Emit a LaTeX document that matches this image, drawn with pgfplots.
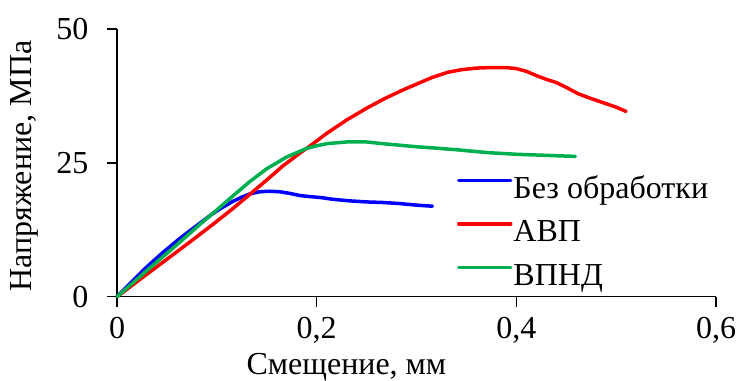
\documentclass[border=0pt]{standalone}
\usepackage{fontspec}
\setmainfont{LiberationSerif}[Extension=.ttf, UprightFont=*-Regular, BoldFont=*-Bold, ItalicFont=*-Italic, BoldItalicFont=*-BoldItalic]
\usepackage{pgfplots}
\pgfplotsset{compat=1.18}
\newcommand\fs{\rmfamily\fontsize{32bp}{38bp}\selectfont}
\definecolor{cblue}{RGB}{0,0,255}
\definecolor{cred}{RGB}{255,0,0}
\definecolor{cgreen}{RGB}{0,176,80}
\begin{document}
\begin{tikzpicture}
\useasboundingbox (0,0) rectangle (737bp,381bp);
\begin{axis}[
  at={(117bp,84.3bp)}, anchor=south west,
  scale only axis, width=599bp, height=267.7bp,
  xmin=0, xmax=0.6, ymin=0, ymax=50,
  clip=false,
  axis x line=bottom, axis y line=left,
  axis line style={-, line width=1.5bp, black},
  xtick={0,0.2,0.4,0.6}, xticklabels={0,{0,2},{0,4},{0,6}},
  ytick={0,25,50}, yticklabels={0,25,50},
  tick align=outside, major tick length=10bp,
  tick style={line width=1.5bp, black},
  tick label style={font=\fs},
  xticklabel style={yshift=-7bp},
  yticklabel style={xshift=-15bp},
  xlabel={Смещение, мм},
  xlabel style={at={(axis description cs:0.383,-0.289)}, anchor=base, font=\fs, inner sep=0pt},
  ylabel={Напряжение, МПа},
  ylabel style={at={(axis description cs:-0.155,0.488)}, anchor=center, font=\fs, inner sep=0pt},
  legend style={draw=none, fill=none, at={(axis description cs:0.5676,0.446)}, anchor=north west,
    font=\fs, inner sep=0pt, outer sep=0pt, row sep=15.5bp, column sep=1bp,
    nodes={inner sep=0pt, text height=21bp, text depth=7bp}},
  legend cell align=left,
  legend image code/.code={\draw[#1] (0bp,11bp) -- (52bp,11bp);},
  every axis plot/.append style={line width=3.5bp, line join=round, line cap=round},
]
\addplot[cblue, no markers] coordinates {
(0,0) (0.01,1.9) (0.0283,5.3) (0.045,8.1) (0.0617,10.7) (0.075,12.6) (0.085,14.0) (0.095,15.4)
(0.105,16.6) (0.116,17.8) (0.125,18.6) (0.133,19.2) (0.143,19.6) (0.153,19.7) (0.163,19.6)
(0.173,19.3) (0.183,18.9) (0.193,18.7) (0.205,18.5) (0.216,18.2) (0.233,17.9) (0.25,17.7)
(0.266,17.6) (0.283,17.4) (0.30,17.1) (0.316,16.9)
};
\addlegendentry{Без обработки}
\addplot[cred, no markers] coordinates {
(0,0) (0.02,2.8) (0.05,7.0) (0.075,10.5) (0.096,13.5) (0.115,16.3) (0.133,19.1) (0.15,21.8)
(0.166,24.4) (0.183,26.8) (0.193,28.1) (0.21,30.5) (0.23,33.0) (0.25,35.2) (0.267,36.9)
(0.285,38.5) (0.30,39.7) (0.315,40.9) (0.331,41.9) (0.345,42.4) (0.36,42.7) (0.375,42.8)
(0.39,42.8) (0.40,42.6) (0.41,42.1) (0.42,41.3) (0.43,40.6) (0.44,40.0) (0.45,39.1)
(0.462,37.9) (0.475,37.0) (0.486,36.3) (0.50,35.4) (0.51,34.6)
};
\addlegendentry{АВП}
\addplot[cgreen, no markers] coordinates {
(0,0) (0.03,4.9) (0.06,9.7) (0.083,13.5) (0.1,16.2) (0.116,18.8) (0.133,21.5) (0.15,23.9)
(0.17,26.1) (0.19,27.7) (0.20,28.2) (0.211,28.6) (0.23,28.9) (0.25,28.9) (0.265,28.6)
(0.283,28.3) (0.30,28.0) (0.316,27.8) (0.343,27.4) (0.372,26.9) (0.40,26.6) (0.43,26.4)
(0.459,26.2)
};
\addlegendentry{ВПНД}
\end{axis}
\end{tikzpicture}
\end{document}
